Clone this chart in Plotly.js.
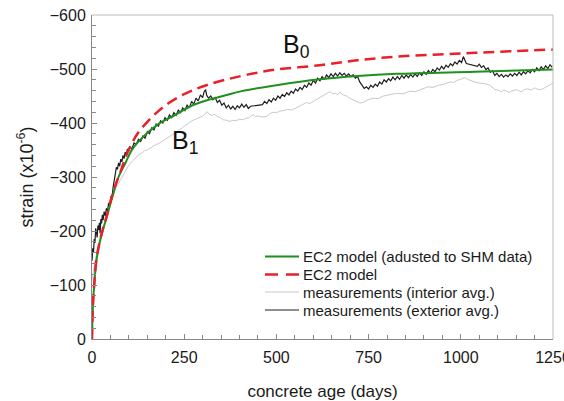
<!DOCTYPE html>
<html>
<head>
<meta charset="utf-8">
<script src="https://cdn.plot.ly/plotly-3.0.1.min.js"></script>
<style>html,body{margin:0;padding:0;background:#fff;overflow:hidden;}#chart{width:564px;height:401px;}</style>
</head>
<body>
<div id="chart"></div>
<script>
// ---- data ----
const modelDays = [0, 1, 3, 6, 12, 20, 30, 40, 53, 65, 76, 90, 108, 125, 154, 180, 208, 240, 271, 310, 361, 425, 500, 618, 720, 826, 940, 1038, 1140, 1250];
const ec2Model = [0, -30, -70, -100, -148, -178, -205, -228, -262, -288, -307, -335, -362, -382, -405, -422, -437, -450, -460, -470, -480, -490, -499, -507, -516, -523, -527, -530, -533, -536];

const adjDays = [0, 1, 3, 6, 12, 20, 30, 40, 53, 72, 90, 110, 144, 180, 226, 270, 316, 360, 406, 500, 618, 720, 826, 1038, 1250];
const ec2Adjusted = [0, -30, -68, -100, -145, -176, -203, -226, -258, -300, -325, -352, -378, -398, -415, -432, -443, -451, -459, -470, -481, -487, -491, -495, -499];

const interiorDays = [0, 5, 10, 18, 25, 35, 45, 55, 65, 78, 90, 100, 110, 120, 128, 135, 143, 150, 158, 165, 173, 181, 188, 195, 203, 210, 220, 229, 237, 245, 253, 260, 268, 275, 283, 290, 300, 306, 312, 318, 325, 333, 340, 348, 356, 365, 374, 382, 390, 400, 410, 418, 425, 431, 437, 444, 450, 462, 474, 482, 491, 500, 509, 520, 530, 542, 555, 568, 582, 591, 600, 610, 620, 632, 645, 652, 660, 666, 672, 681, 690, 698, 705, 711, 717, 726, 735, 748, 762, 776, 790, 808, 826, 844, 862, 876, 890, 900, 911, 925, 940, 955, 970, 980, 990, 1000, 1011, 1018, 1025, 1037, 1050, 1065, 1079, 1086, 1092, 1101, 1110, 1117, 1124, 1130, 1137, 1144, 1151, 1158, 1165, 1173, 1182, 1191, 1200, 1210, 1219, 1227, 1235, 1243, 1250];
const interiorAvg = [-110, -135, -150, -172, -195, -215, -240, -262, -280, -296, -310, -322, -330, -336, -342, -344, -349, -350, -354, -356, -360, -362, -365, -368, -372, -375, -380, -383, -388, -391, -396, -398, -403, -405, -408, -410, -413, -416, -421, -416, -414, -416, -412, -410, -406, -405, -403, -405, -404, -407, -406, -409, -409, -413, -415, -412, -413, -411, -412, -417, -420, -419, -422, -423, -425, -424, -428, -433, -438, -436, -440, -444, -448, -452, -458, -454, -455, -452, -457, -452, -450, -446, -444, -441, -440, -437, -438, -443, -446, -445, -450, -452, -455, -454, -459, -458, -462, -464, -467, -466, -470, -472, -476, -475, -479, -481, -484, -481, -479, -476, -474, -473, -470, -466, -462, -461, -458, -461, -459, -457, -459, -460, -462, -459, -458, -462, -463, -461, -465, -462, -462, -465, -468, -470, -474];

const exteriorDays = [0, 2, 4, 6, 8, 10, 12, 14, 16, 18, 20, 22, 24, 26, 28, 30, 33, 36, 39, 42, 45, 48, 51, 54, 57, 60, 63, 66, 69, 72, 75, 78, 81, 84, 87, 90, 93, 96, 99,
  102, 108, 114, 120, 126, 132, 138, 144, 150, 156, 162, 168, 174, 180, 186, 192, 198, 204, 210, 216, 222, 228, 234, 240, 246, 252, 258, 264, 270, 276, 282, 288, 294, 300, 304, 308, 311, 316, 322, 328, 334, 340, 346, 352, 358, 364, 370, 376, 382, 388, 394, 400, 406, 412, 418, 424, 430,
  462, 468, 474, 480, 486, 492, 498, 504, 510, 516, 522, 528, 534, 540, 546, 552, 558, 564, 570, 576, 582, 588, 594, 600, 606, 612, 618, 624, 630, 636, 642, 648, 654, 660, 666, 672, 678, 684, 690, 696, 702, 708, 714, 720, 726, 732, 738, 744, 750, 756, 762, 768, 774, 780, 786, 792, 798, 804, 810, 816, 822, 828, 834, 840, 846, 852, 858, 864, 870, 876, 882, 888, 894, 900, 906, 912, 918, 924, 930, 936, 942, 948, 954, 960, 966, 972, 978, 984, 990, 996, 1002, 1007, 1011, 1015,
  1045, 1050, 1056, 1062, 1068, 1074, 1080, 1086, 1092, 1098, 1104, 1110, 1116, 1122, 1128, 1134, 1140, 1146, 1152, 1158, 1164, 1170, 1176, 1182, 1188, 1194, 1200, 1206, 1212, 1218, 1224, 1230, 1236, 1242, 1248];
const exteriorAvg = [-145, -168, -160, -185, -178, -205, -198, -188, -210, -202, -215, -196, -222, -214, -230, -220, -236, -228, -242, -236, -252, -246, -264, -258, -280, -290, -305, -318, -314, -326, -320, -333, -328, -340, -334, -346, -340, -352, -347,
  -356, -352, -363, -360, -370, -366, -376, -372, -384, -380, -391, -387, -398, -394, -404, -400, -410, -405, -415, -410, -419, -414, -424, -419, -428, -423, -433, -428, -440, -435, -446, -441, -452, -447, -458, -462, -451, -446, -450, -443, -447, -438, -442, -433, -437, -428, -433, -426, -431, -425, -432, -428, -435, -429, -434, -427, -431,
  -434, -440, -436, -443, -439, -446, -442, -450, -446, -453, -449, -456, -452, -459, -455, -463, -459, -466, -462, -470, -466, -474, -470, -479, -474, -483, -478, -486, -481, -489, -484, -491, -486, -492, -487, -493, -488, -492, -487, -491, -486, -489, -483, -486, -476, -470, -464, -467, -463, -470, -466, -472, -468, -476, -472, -480, -476, -482, -478, -485, -480, -486, -481, -488, -483, -489, -484, -490, -485, -491, -486, -493, -488, -495, -490, -497, -492, -499, -495, -502, -498, -505, -500, -507, -503, -510, -506, -513, -509, -516, -512, -523, -516, -510,
  -505, -509, -503, -506, -499, -502, -494, -497, -488, -492, -486, -490, -485, -489, -486, -491, -487, -492, -488, -494, -489, -495, -491, -497, -493, -499, -495, -502, -497, -504, -499, -506, -501, -508, -503];

const legendNames = ['EC2 model (adusted to SHM data)', 'EC2 model', 'measurements (interior avg.)', 'measurements (exterior avg.)'];
const xTickVals = [0, 250, 500, 750, 1000, 1250];
const yTickVals = [0, -100, -200, -300, -400, -500, -600];

// ---- styles ----
const FONT = 'Liberation Sans, Arial, sans-serif';
const C_GREEN = '#1f8f1f', C_RED = '#e8202a', C_GRAY = '#c9c9c9', C_BLACK = '#1e1e1e';
const legendStyles = [
  {color: C_GREEN, width: 2, dash: 'solid'},
  {color: C_RED, width: 2.5, dash: '13px,8px'},
  {color: C_GRAY, width: 1, dash: 'solid'},
  {color: C_BLACK, width: 1, dash: 'solid'}
];

const traces = [
  {x: interiorDays, y: interiorAvg, mode: 'lines', name: legendNames[2], line: {color: C_GRAY, width: 1}},
  {x: exteriorDays, y: exteriorAvg, mode: 'lines', name: legendNames[3], line: {color: C_BLACK, width: 1.2}},
  {x: adjDays, y: ec2Adjusted, mode: 'lines', name: legendNames[0], line: {color: C_GREEN, width: 2, shape: 'spline'}},
  {x: modelDays, y: ec2Model, mode: 'lines', name: legendNames[1], line: {color: C_RED, width: 2.5, dash: '11px,6px', shape: 'spline'}}
];

// manual legend (tight row spacing as in the reference)
const plotL = 92, plotW = 461, plotB = 339, plotH = 324;
const px2x = p => (p - plotL) / plotW;
const px2y = p => (plotB - p) / plotH;
const legendRowsPx = [256.5, 274.5, 292, 310];
const legendShapes = legendNames.map((n, i) => ({
  type: 'line', xref: 'paper', yref: 'paper', x0: px2x(265), x1: px2x(299),
  y0: px2y(legendRowsPx[i]), y1: px2y(legendRowsPx[i]),
  line: {color: legendStyles[i].color, width: legendStyles[i].width, dash: legendStyles[i].dash}
}));
const legendAnn = legendNames.map((n, i) => ({
  text: n, xref: 'paper', yref: 'paper', x: px2x(301), y: px2y(legendRowsPx[i]),
  xanchor: 'left', yanchor: 'middle', showarrow: false,
  font: {family: FONT, size: 15, color: '#1a1a1a'}
}));

const layout = {
  width: 564, height: 401,
  margin: {l: 92, r: 11, t: 15, b: 62},
  paper_bgcolor: '#fff', plot_bgcolor: '#fff',
  font: {family: FONT, size: 15, color: '#1a1a1a'},
  showlegend: false,
  xaxis: {range: [0, 1250], tickvals: xTickVals, ticks: 'inside', ticklen: 5, tickcolor: '#888',
          minor: {dtick: 50, ticks: 'inside', ticklen: 4, tickcolor: '#888'},
          showline: true, linecolor: '#888', linewidth: 1, showgrid: false, zeroline: false,
          ticklabelstandoff: 4, ticklabeloverflow: 'allow',
          tickfont: {family: FONT, size: 16, color: '#1a1a1a'},
          title: {text: 'concrete age (days)', font: {family: FONT, size: 17, color: '#1a1a1a'}, standoff: 19}},
  yaxis: {range: [0, -600], tickvals: yTickVals, ticks: 'inside', ticklen: 5, tickcolor: '#888',
          minor: {dtick: 20, ticks: 'inside', ticklen: 4, tickcolor: '#888'},
          showline: true, linecolor: '#888', linewidth: 1, showgrid: false, zeroline: false,
          ticklabelstandoff: 2, ticklabeloverflow: 'allow',
          tickfont: {family: FONT, size: 16, color: '#1a1a1a'},
          title: {text: 'strain (x10<sup>-6</sup>)', font: {family: FONT, size: 18, color: '#1a1a1a'}, standoff: 11}},
  shapes: [
    {type: 'line', xref: 'paper', yref: 'paper', x0: 0, x1: 1, y0: 1, y1: 1, line: {color: '#bbb', width: 1}},
    {type: 'line', xref: 'paper', yref: 'paper', x0: 1, x1: 1, y0: 0, y1: 1, line: {color: '#bbb', width: 1}}
  ].concat(legendShapes),
  annotations: [
    {text: 'B<sub>0</sub>', x: 554, y: -543, xref: 'x', yref: 'y', showarrow: false,
     font: {family: FONT, size: 25, color: '#111'}},
    {text: 'B<sub>1</sub>', x: 252, y: -365, xref: 'x', yref: 'y', showarrow: false,
     font: {family: FONT, size: 25, color: '#111'}}
  ].concat(legendAnn)
};

Plotly.newPlot('chart', traces, layout, {staticPlot: true, displayModeBar: false});
</script>
</body>
</html>
